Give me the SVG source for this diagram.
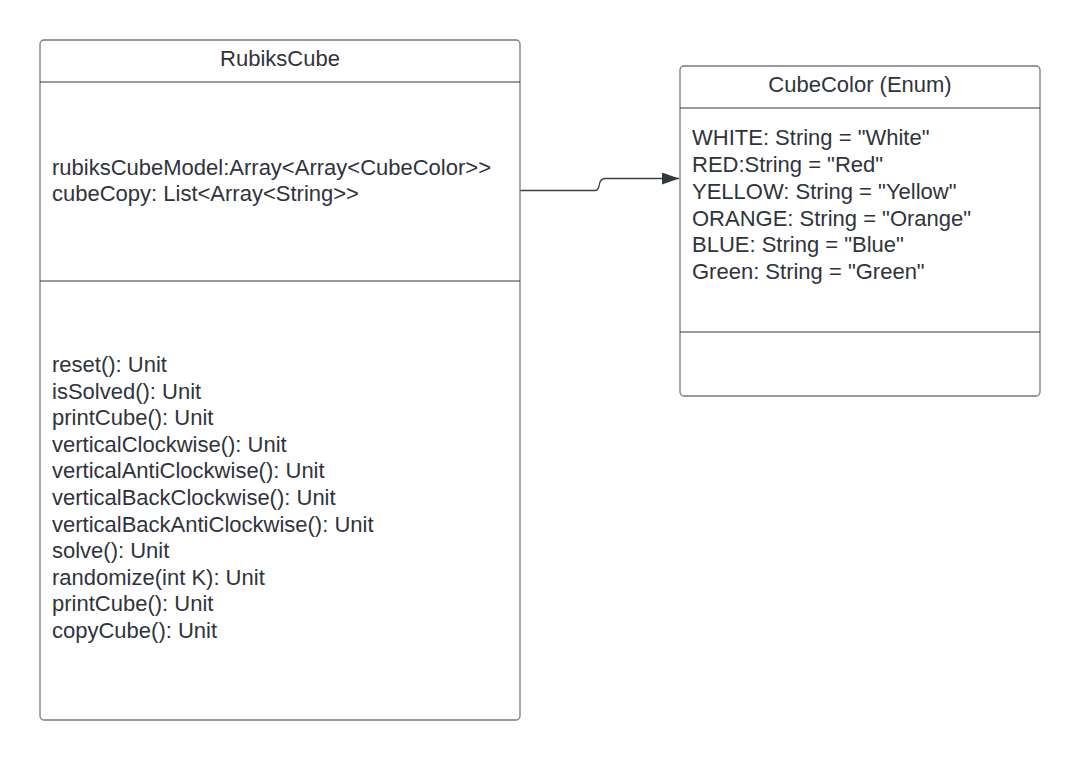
<svg xmlns="http://www.w3.org/2000/svg" width="1080" height="760" viewBox="0 0 1080 760">
<defs>
<style>
.box{fill:#ffffff;stroke:#767a82;stroke-width:1.3}
.div{stroke:#333840;stroke-width:1.2}
.t{font-family:"Liberation Sans",Arial,sans-serif;font-size:22px;fill:#2f343c}
.h{text-anchor:middle}
.conn{fill:none;stroke:#3d424a;stroke-width:1.3}
</style>
<marker id="arr" markerWidth="17" markerHeight="12" refX="17" refY="6" orient="auto" markerUnits="userSpaceOnUse">
<path d="M0,0 L17,6 L0,12 Z" fill="#333840"/>
</marker>
</defs>
<rect width="1080" height="760" fill="#ffffff"/>
<g id="connectors">
<path class="conn" d="M520,190.5 L595,190.5 Q598,190.5 599,186 Q600,178.5 605,178.5 L679,178.5" marker-end="url(#arr)"/>
</g>
<g id="RubiksCube">
<rect class="box" x="40" y="40" width="480" height="680" rx="4"/>
<line class="div" x1="40" y1="82" x2="520" y2="82"/>
<line class="div" x1="40" y1="281" x2="520" y2="281"/>
<text class="t h" x="280" y="66">RubiksCube</text>
<text class="t" x="52" y="175">rubiksCubeModel:Array&lt;Array&lt;CubeColor&gt;&gt;</text>
<text class="t" x="52" y="201">cubeCopy: List&lt;Array&lt;String&gt;&gt;</text>
<text class="t" x="52" y="372">reset(): Unit</text>
<text class="t" x="52" y="398.6">isSolved(): Unit</text>
<text class="t" x="52" y="425.2">printCube(): Unit</text>
<text class="t" x="52" y="451.8">verticalClockwise(): Unit</text>
<text class="t" x="52" y="478.4">verticalAntiClockwise(): Unit</text>
<text class="t" x="52" y="505">verticalBackClockwise(): Unit</text>
<text class="t" x="52" y="531.6">verticalBackAntiClockwise(): Unit</text>
<text class="t" x="52" y="558.2">solve(): Unit</text>
<text class="t" x="52" y="584.8">randomize(int K): Unit</text>
<text class="t" x="52" y="611.4">printCube(): Unit</text>
<text class="t" x="52" y="638">copyCube(): Unit</text>
</g>
<g id="CubeColor">
<rect class="box" x="680" y="66" width="360" height="330" rx="4"/>
<line class="div" x1="680" y1="108" x2="1040" y2="108"/>
<line class="div" x1="680" y1="332" x2="1040" y2="332"/>
<text class="t h" x="860" y="92">CubeColor (Enum)</text>
<text class="t" x="692" y="145">WHITE: String = "White"</text>
<text class="t" x="692" y="172">RED:String = "Red"</text>
<text class="t" x="692" y="198.5">YELLOW: String = "Yellow"</text>
<text class="t" x="692" y="225.5">ORANGE: String = "Orange"</text>
<text class="t" x="692" y="252">BLUE: String = "Blue"</text>
<text class="t" x="692" y="279">Green: String = "Green"</text>
</g>
</svg>
